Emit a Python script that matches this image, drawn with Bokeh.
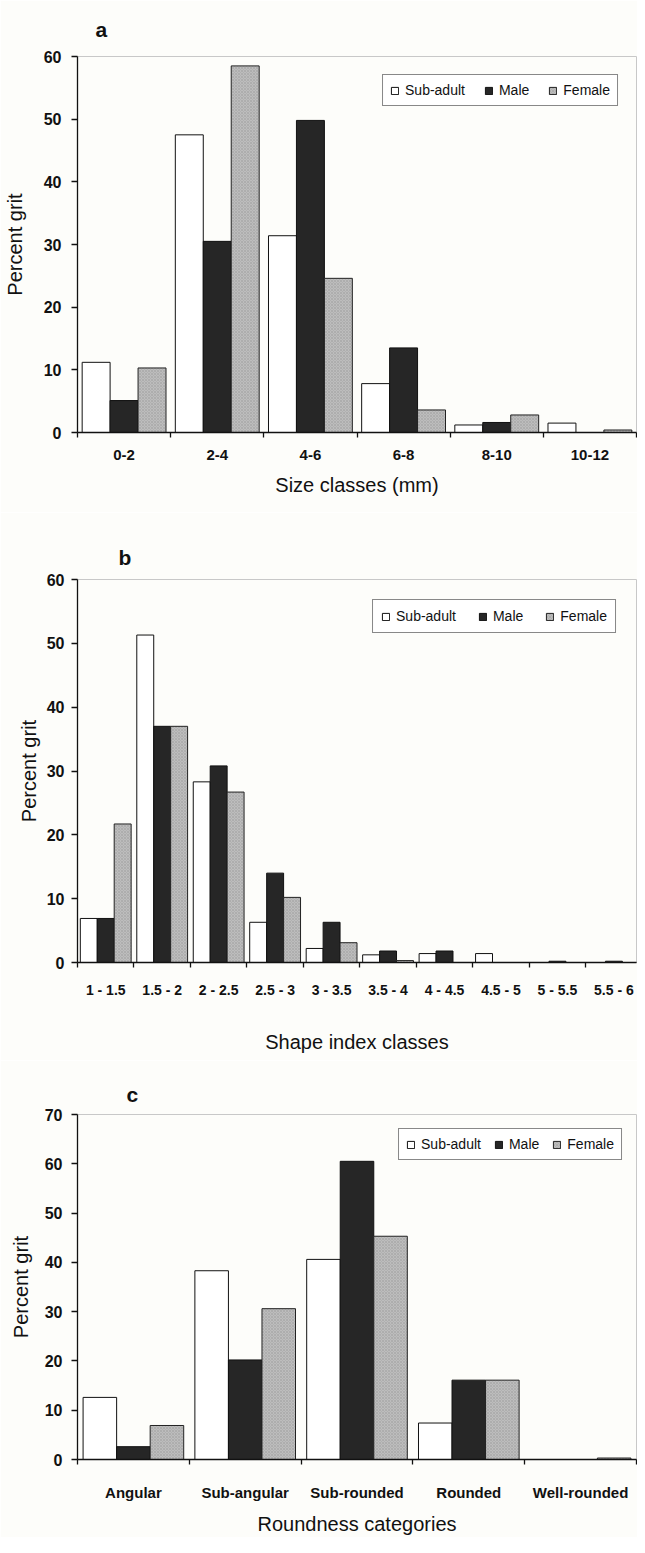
import numpy as np
from bokeh.plotting import figure
from bokeh.layouts import column
from bokeh.models import ColumnDataSource, FixedTicker, Range1d, Legend, LegendItem
from bokeh.transform import dodge
from bokeh.embed import file_html
from bokeh.resources import INLINE

# ---------------- data ----------------
series_names = ["Sub-adult", "Male", "Female"]

size_classes = ["0-2", "2-4", "4-6", "6-8", "8-10", "10-12"]
size_subadult = [11.2, 47.5, 31.4, 7.8, 1.2, 1.5]
size_male = [5.1, 30.5, 49.8, 13.5, 1.6, 0.0]
size_female = [10.3, 58.5, 24.6, 3.6, 2.8, 0.4]

shape_classes = ["1 - 1.5", "1.5 - 2", "2 - 2.5", "2.5 - 3", "3 - 3.5",
                 "3.5 - 4", "4 - 4.5", "4.5 - 5", "5 - 5.5", "5.5 - 6"]
shape_subadult = [6.9, 51.3, 28.3, 6.3, 2.2, 1.2, 1.4, 1.4, 0.0, 0.0]
shape_male = [6.9, 37.0, 30.8, 14.0, 6.3, 1.8, 1.8, 0.0, 0.2, 0.2]
shape_female = [21.7, 37.0, 26.7, 10.2, 3.1, 0.3, 0.0, 0.0, 0.0, 0.0]

round_classes = ["Angular", "Sub-angular", "Sub-rounded", "Rounded", "Well-rounded"]
round_subadult = [12.6, 38.3, 40.6, 7.4, 0.0]
round_male = [2.6, 20.2, 60.5, 16.1, 0.0]
round_female = [6.9, 30.6, 45.3, 16.1, 0.3]

FONT = "Liberation Sans"
BG = "#fdfdfa"


def panel(letter, cats, sa, ma, fe, ymax, xlabel, *, height, left, top, bottom, right,
          x_end, xfont, xl_standoff, xt_standoff, yl_standoff, ylab_standoff,
          title_offset, title_standoff, legend_margin, legend_spacing, legend_padding):
    n = len(cats)
    centers = [i + 0.5 for i in range(n)]
    src = ColumnDataSource(dict(x=centers, sa=sa, ma=ma, fe=fe))
    p = figure(width=637, height=height, x_range=Range1d(0, x_end), y_range=Range1d(0, ymax),
               output_backend="svg", toolbar_location=None,
               min_border_left=left, min_border_right=right,
               min_border_top=top, min_border_bottom=bottom,
               background_fill_color=BG, border_fill_color=BG)
    p.xgrid.visible = False
    p.ygrid.visible = False
    p.outline_line_color = "#c8c8c8"
    p.outline_line_width = 1

    w = 0.3
    r_sa = p.vbar(x=dodge("x", -w), top="sa", width=w, source=src,
                  fill_color="white", line_color="#111111", line_width=1)
    r_ma = p.vbar(x="x", top="ma", width=w, source=src,
                  fill_color="#262626", line_color="#111111", line_width=1)
    r_fe = p.vbar(x=dodge("x", w), top="fe", width=w, source=src,
                  fill_color="#bdbdbd", line_color="#222222", line_width=1,
                  hatch_pattern="diagonal_cross", hatch_color="#8c8c8c",
                  hatch_alpha=0.55, hatch_scale=3, hatch_weight=0.6)

    legend = Legend(items=[LegendItem(label=series_names[0], renderers=[r_sa]),
                           LegendItem(label=series_names[1], renderers=[r_ma]),
                           LegendItem(label=series_names[2], renderers=[r_fe])],
                    orientation="horizontal", location="top_right",
                    margin=legend_margin, padding=legend_padding, spacing=legend_spacing,
                    glyph_width=9, glyph_height=9, label_standoff=6, label_height=16,
                    label_text_font=FONT, label_text_font_size="14px",
                    label_text_color="#111111",
                    border_line_color="#111111", border_line_width=1,
                    background_fill_color="white", background_fill_alpha=1)
    p.add_layout(legend, "center")

    # x axis: labels at category centres, tick marks between categories
    xa = p.xaxis[0]
    xa.ticker = FixedTicker(ticks=centers, minor_ticks=list(range(n + 1)))
    xa.major_label_overrides = {c: lab for c, lab in zip(centers, cats)}
    xa.major_tick_out = 0
    xa.major_tick_in = 0
    xa.minor_tick_out = 5
    xa.minor_tick_in = 0
    xa.minor_tick_line_color = "#111111"
    xa.minor_tick_line_width = 1.3
    xa.axis_line_color = "#111111"
    xa.axis_line_width = 1.3
    xa.major_label_text_font = FONT
    xa.major_label_text_font_style = "bold"
    xa.major_label_text_font_size = xfont
    xa.major_label_text_color = "#111111"
    xa.major_label_standoff = xt_standoff
    xa.axis_label = xlabel
    xa.axis_label_text_font = FONT
    xa.axis_label_text_font_style = "normal"
    xa.axis_label_text_font_size = "20px"
    xa.axis_label_text_color = "#111111"
    xa.axis_label_standoff = xl_standoff

    ya = p.yaxis[0]
    ya.ticker = FixedTicker(ticks=list(range(0, ymax + 1, 10)), minor_ticks=[])
    ya.major_tick_out = 6
    ya.major_tick_in = 0
    ya.major_tick_line_color = "#111111"
    ya.major_tick_line_width = 1.3
    ya.axis_line_color = "#111111"
    ya.axis_line_width = 1.3
    ya.major_label_text_font = FONT
    ya.major_label_text_font_style = "bold"
    ya.major_label_text_font_size = "16px"
    ya.major_label_text_color = "#111111"
    ya.major_label_standoff = ylab_standoff
    ya.axis_label = "Percent grit"
    ya.axis_label_text_font = FONT
    ya.axis_label_text_font_style = "normal"
    ya.axis_label_text_font_size = "20px"
    ya.axis_label_text_color = "#111111"
    ya.axis_label_standoff = yl_standoff

    # panel letter as the figure title
    p.title.text = letter
    p.title.text_font = FONT
    p.title.text_font_style = "bold"
    p.title.text_font_size = "21px"
    p.title.text_color = "#111111"
    p.title.align = "left"
    p.title.offset = title_offset
    p.title.standoff = title_standoff
    return p


pa = panel("a", size_classes, size_subadult, size_male, size_female, 60, "Size classes (mm)",
           height=512, left=74, top=55, bottom=80, right=1, x_end=6, xfont="15px",
           xt_standoff=12, xl_standoff=11, yl_standoff=15, ylab_standoff=10,
           title_offset=18, title_standoff=31, legend_margin=18, legend_spacing=19,
           legend_padding=7)

pb = panel("b", shape_classes, shape_subadult, shape_male, shape_female, 60, "Shape index classes",
           height=548, left=57, top=67, bottom=98, right=1, x_end=9.9, xfont="14px",
           xt_standoff=14, xl_standoff=30, yl_standoff=4, ylab_standoff=7,
           title_offset=41, title_standoff=21, legend_margin=20, legend_spacing=22,
           legend_padding=8)

pc = panel("c", round_classes, round_subadult, round_male, round_female, 70, "Roundness categories",
           height=477, left=69, top=54, bottom=70, right=0, x_end=5, xfont="15px",
           xt_standoff=19, xl_standoff=9, yl_standoff=10, ylab_standoff=9,
           title_offset=49, title_standoff=18, legend_margin=14, legend_spacing=13,
           legend_padding=7)

layout = column(pa, pb, pc, spacing=0)
open("out.html", "w").write(file_html(layout, INLINE))
